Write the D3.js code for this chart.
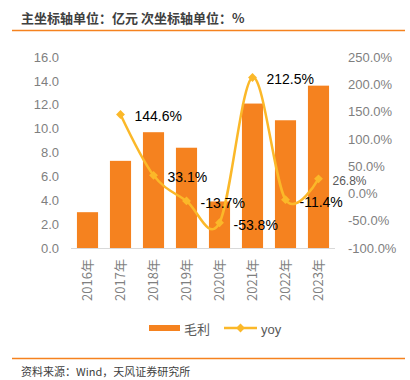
<!DOCTYPE html>
<html lang="zh">
<head>
<meta charset="UTF-8">
<title>毛利及yoy</title>
<script src="https://d3js.org/d3.v7.min.js"></script>
<style>
    body { margin: 0; background: #fff; }
    svg { display: block; font-family: "Liberation Sans", Arial, "Noto Sans CJK SC", sans-serif; }
    .cn { font-family: "Noto Sans CJK SC", sans-serif; }
    .tick text { fill: #7f7f7f; font-size: 13px; }
</style>
</head>
<body>
<div id="chart"></div>
<script>
const years = ["2016年", "2017年", "2018年", "2019年", "2020年", "2021年", "2022年", "2023年"];
const grossProfit = [3.0, 7.3, 9.7, 8.4, 3.9, 12.1, 10.7, 13.6];
const yoy = [null, 144.6, 33.1, -13.7, -53.8, 212.5, -11.4, 26.8];
const leftTicks = [0, 2, 4, 6, 8, 10, 12, 14, 16];
const rightTicks = [-100, -50, 0, 50, 100, 150, 200, 250];

const W = 410, H = 380;
const plot = { left: 71, right: 335, top: 57, bottom: 248 };
const orange = "#f5821f", yellow = "#fbb829";
const pct = d => d.toFixed(1) + "%";

const svg = d3.select("#chart").append("svg")
    .attr("width", W).attr("height", H);

// title + rules
svg.append("text").attr("class", "cn")
    .attr("x", 21).attr("y", 23)
    .attr("font-size", 13).attr("font-weight", "bold").attr("fill", "#404040")
    .text("主坐标轴单位：亿元 次坐标轴单位：%");
svg.append("line").attr("x1", 12).attr("x2", 405).attr("y1", 30.5).attr("y2", 30.5)
    .attr("stroke", orange).attr("stroke-width", 1.5);
svg.append("line").attr("x1", 12).attr("x2", 405).attr("y1", 358.5).attr("y2", 358.5)
    .attr("stroke", orange).attr("stroke-width", 1.5);
svg.append("text").attr("class", "cn")
    .attr("x", 21).attr("y", 376)
    .attr("font-size", 11).attr("fill", "#404040")
    .text("资料来源：Wind，天风证券研究所");

const x = d3.scaleBand().domain(years)
    .range([plot.left, plot.right])
    .paddingInner(0.36).paddingOuter(0.18);
const y = d3.scaleLinear().domain([0, 16]).range([plot.bottom, plot.top]);
const y2 = d3.scaleLinear().domain([-100, 250]).range([plot.bottom, plot.top]);

// left axis
svg.append("g")
    .attr("transform", `translate(${plot.left - 12},0)`)
    .call(d3.axisLeft(y).tickValues(leftTicks).tickFormat(d => d.toFixed(1)).tickSize(0).tickPadding(0))
    .call(g => g.select(".domain").remove());

// right axis
svg.append("g")
    .attr("transform", `translate(${plot.right + 13},0)`)
    .call(d3.axisRight(y2).tickValues(rightTicks).tickFormat(pct).tickSize(0).tickPadding(0))
    .call(g => g.select(".domain").remove());

// bars
svg.append("g").selectAll("rect")
    .data(grossProfit)
    .join("rect")
    .attr("x", (d, i) => x(years[i]))
    .attr("width", x.bandwidth())
    .attr("y", d => y(d))
    .attr("height", d => y(0) - y(d))
    .attr("fill", orange);

// baseline
svg.append("line")
    .attr("x1", plot.left).attr("x2", plot.right)
    .attr("y1", plot.bottom + 0.5).attr("y2", plot.bottom + 0.5)
    .attr("stroke", "#d9d9d9").attr("stroke-width", 1);

// x labels
svg.append("g")
    .attr("transform", `translate(0,${plot.bottom})`)
    .call(d3.axisBottom(x).tickSize(0).tickPadding(0))
    .call(g => g.select(".domain").remove())
    .selectAll("text")
    .attr("class", "cn")
    .attr("transform", "rotate(-90)")
    .attr("text-anchor", "end")
    .attr("x", -11).attr("y", 0).attr("dy", "0.35em");

// yoy line
const pts = yoy.map((v, i) => ({ year: years[i], v })).filter(d => d.v !== null);
const line = d3.line()
    .x(d => x(d.year) + x.bandwidth() / 2)
    .y(d => y2(d.v))
    .curve(d3.curveCardinal.tension(0));
svg.append("path").datum(pts)
    .attr("d", line)
    .attr("fill", "none").attr("stroke", yellow).attr("stroke-width", 2.5);

const diamond = d3.symbol().type(d3.symbolDiamond2).size(50);
svg.append("g").selectAll("path")
    .data(pts)
    .join("path")
    .attr("d", diamond)
    .attr("transform", d => `translate(${x(d.year) + x.bandwidth() / 2},${y2(d.v)})`)
    .attr("fill", yellow);

svg.append("g").selectAll("text")
    .data(pts)
    .join("text")
    .attr("x", d => x(d.year) + x.bandwidth() / 2 + 14)
    .attr("y", d => y2(d.v) + 2)
    .attr("dy", "0.35em")
    .attr("font-size", d => d.year === "2023年" ? 12 : 14)
    .attr("fill", d => d.year === "2023年" ? "#595959" : "#000")
    .text(d => pct(d.v));

// legend
const lg = svg.append("g");
lg.append("rect").attr("x", 149).attr("y", 325).attr("width", 31).attr("height", 6).attr("fill", orange);
lg.append("text").attr("class", "cn").attr("x", 184).attr("y", 329).attr("dy", "0.35em")
    .attr("font-size", 13).attr("fill", "#595959").text("毛利");
lg.append("line").attr("x1", 224).attr("x2", 257).attr("y1", 328).attr("y2", 328)
    .attr("stroke", yellow).attr("stroke-width", 2.5);
lg.append("path").attr("d", diamond).attr("transform", "translate(240.5,328)").attr("fill", yellow);
lg.append("text").attr("x", 261).attr("y", 329).attr("dy", "0.35em")
    .attr("font-size", 13).attr("fill", "#595959").text("yoy");
</script>
</body>
</html>
